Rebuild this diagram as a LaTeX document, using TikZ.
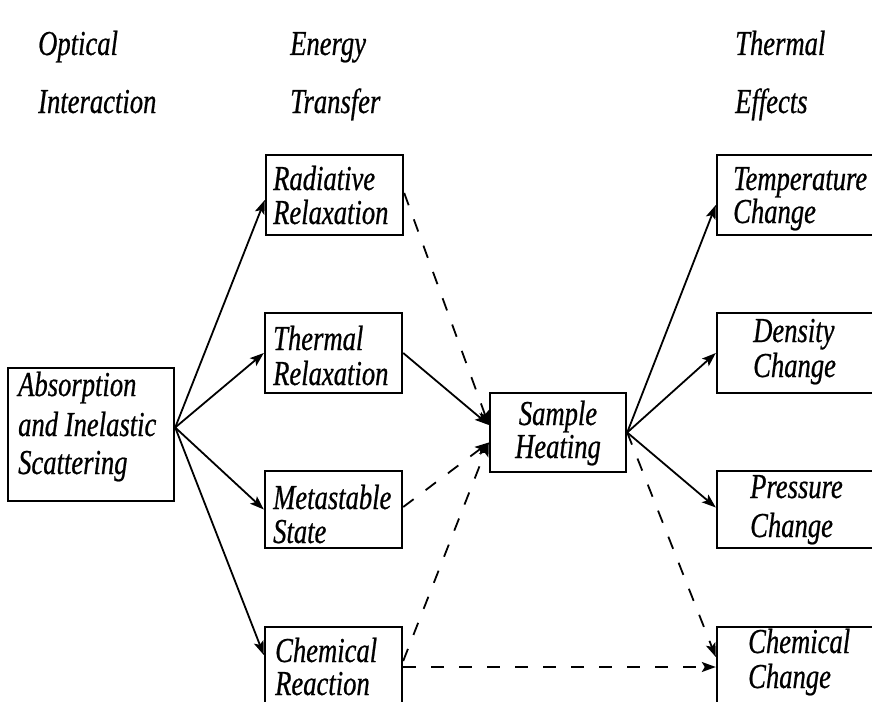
\documentclass[tikz,border=0pt]{standalone}
\usepackage{fontspec}
\setmainfont{Liberation Serif}[FakeStretch=0.76,FakeBold=0.6]
\usetikzlibrary{arrows.meta}
\begin{document}
\begin{tikzpicture}[x=1pt,y=-1pt,
  box/.style={draw, line width=2.4pt, rectangle, inner sep=0pt},
  lbl/.style={anchor=base west, inner sep=0pt, font=\fontsize{35}{38}\selectfont\itshape},
  clbl/.style={lbl, anchor=base},
  link/.style={line width=1.8pt, -{Stealth[length=14pt,width=10pt,inset=3pt]}},
  dlink/.style={link, dash pattern=on 13pt off 15pt}]
\useasboundingbox (0,0) rectangle (872,701);
\begin{scope}
\clip (0,0) rectangle (872,701);
% boxes
\node[box, minimum width=166pt, minimum height=133pt] (abs) at (91,434.5) {};
\node[box, minimum width=137pt, minimum height=80pt] (rad) at (334.5,195) {};
\node[box, minimum width=137pt, minimum height=80pt] (thr) at (333.5,353) {};
\node[box, minimum width=137pt, minimum height=77pt] (met) at (333.5,509.5) {};
\node[box, minimum width=137pt, minimum height=80pt] (chr) at (333.5,667) {};
\node[box, minimum width=136pt, minimum height=79pt] (heat) at (558,432.5) {};
\node[box, minimum width=173pt, minimum height=80pt] (tmp) at (803.5,195) {};
\node[box, minimum width=173pt, minimum height=80pt] (den) at (803.5,353) {};
\node[box, minimum width=173pt, minimum height=77pt] (prs) at (803.5,509.5) {};
\node[box, minimum width=173pt, minimum height=80pt] (chc) at (803.5,667) {};
% headers
\node[lbl] (h1a) at (38,55) {Optical};
\node[lbl] (h1b) at (38,113) {Interaction};
\node[lbl] (h2a) at (290,55) {Energy};
\node[lbl] (h2b) at (290,113) {Transfer};
\node[lbl] (h3a) at (735,55) {Thermal};
\node[lbl] (h3b) at (735,113) {Effects};
% box texts
\node[lbl] (absa) at (18,396) {Absorption};
\node[lbl] (absb) at (18,436) {and Inelastic};
\node[lbl] (absc) at (18,474) {Scattering};
\node[lbl] (rada) at (273,190) {Radiative};
\node[lbl] (radb) at (273,224) {Relaxation};
\node[lbl] (thra) at (273,350) {Thermal};
\node[lbl] (thrb) at (273,385) {Relaxation};
\node[lbl] (meta) at (273,509) {Metastable};
\node[lbl] (metb) at (273,543) {State};
\node[lbl] (chra) at (275,662) {Chemical};
\node[lbl] (chrb) at (275,695) {Reaction};
\node[clbl] (heata) at (558,425) {Sample};
\node[clbl] (heatb) at (558,458) {Heating};
\node[lbl] (tmpa) at (733,190) {Temperature};
\node[lbl] (tmpb) at (733,223) {Change};
\node[lbl] (dena) at (753,342) {Density};
\node[lbl] (denb) at (753,377) {Change};
\node[lbl] (prsa) at (750,498) {Pressure};
\node[lbl] (prsb) at (750,537) {Change};
\node[lbl] (chca) at (748,653) {Chemical};
\node[lbl] (chcb) at (748,688) {Change};
% connectors
\draw[link] ([yshift=7pt]abs.east) -- ([yshift=-5pt]rad.west);
\draw[link] ([yshift=7pt]abs.east) -- (thr.west);
\draw[link] ([yshift=7pt]abs.east) -- (met.west);
\draw[link] ([yshift=7pt]abs.east) -- ([yshift=12pt]chr.west);
\draw[link] (thr.east) -- ([yshift=7.5pt]heat.west);
\draw[dlink] ([yshift=2pt]rad.east) -- ([yshift=7.5pt]heat.west);
\draw[dlink] ([yshift=2.5pt]met.east) -- ([yshift=-10pt]heat.west);
\draw[dlink] ([yshift=6pt]chr.east) -- ([yshift=-10pt]heat.west);
\draw[dlink] (chr.east) -- (chc.west);
\draw[link] (heat.east) -- ([yshift=-10pt]tmp.west);
\draw[link] (heat.east) -- (den.west);
\draw[link] (heat.east) -- ([yshift=2pt]prs.west);
\draw[dlink] (heat.east) -- ([yshift=10pt]chc.west);
\end{scope}
\end{tikzpicture}
\end{document}
